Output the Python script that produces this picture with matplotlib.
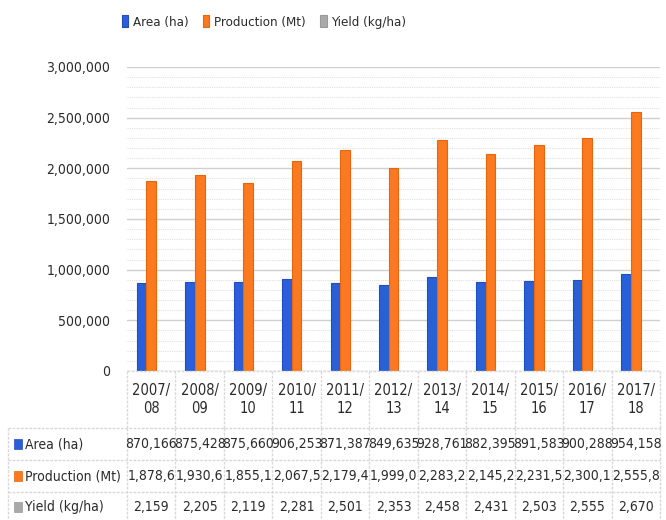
import numpy as np
import matplotlib.pyplot as plt
from matplotlib.patches import Rectangle
from matplotlib.ticker import MultipleLocator, FuncFormatter

# narrow face for the crowded table cells
plt.rcParams['font.family'] = ['DejaVu Sans']
plt.rcParams['font.stretch'] = 'condensed'

seasons = ['2007/\n08', '2008/\n09', '2009/\n10', '2010/\n11', '2011/\n12', '2012/\n13',
           '2013/\n14', '2014/\n15', '2015/\n16', '2016/\n17', '2017/\n18']
area = [870166, 875428, 875660, 906253, 871387, 849635, 928761, 882395, 891583, 900288, 954158]
production = [1878600, 1930600, 1855100, 2067500, 2179400, 1999000, 2283200, 2145200,
              2231500, 2300100, 2555800]
yield_kg = [2159, 2205, 2119, 2281, 2501, 2353, 2458, 2431, 2503, 2555, 2670]
series_names = ['Area (ha)', 'Production (Mt)', 'Yield (kg/ha)']

colors = ['#2a5fd8', '#fb7a1f', '#a9a9a9']
edges = ['#1f4fbf', '#e8650c', '#9a9a9a']
txt = '#2b2b2b'
grid_c = '#d9d9d9'
fs = 10

W, H = 666, 520
fig = plt.figure(figsize=(W / 100, H / 100), dpi=100)

# pixel layout of the plot area
x0, x1 = 127, 660
y_top, y_zero = 67, 371
ax = fig.add_axes([x0 / W, 1 - y_zero / H, (x1 - x0) / W, (y_zero - y_top) / H])

n = len(seasons)
x = np.arange(n)
bw = 0.2
for i, vals in enumerate([area, production, yield_kg]):
    ax.bar(x + (i - 1) * bw, vals, bw, color=colors[i], edgecolor=edges[i], linewidth=0.8,
           label=series_names[i], zorder=3)

ax.set_xlim(-0.5, n - 0.5)
ax.set_ylim(0, 3000000)
ax.yaxis.set_major_locator(MultipleLocator(500000))
ax.yaxis.set_minor_locator(MultipleLocator(100000))
ax.yaxis.set_major_formatter(FuncFormatter(lambda v, p: f'{int(v):,}'))
ax.grid(axis='y', which='major', color='#d0d0d0', linewidth=1.0, zorder=0)
ax.grid(axis='y', which='minor', color='#e0e0e0', linewidth=0.8, linestyle=(0, (1, 1)), zorder=0)
ax.set_xticks([])
ax.tick_params(axis='y', which='both', length=0, labelsize=10, labelcolor=txt, pad=12)
for s in ax.spines.values():
    s.set_visible(False)

# legend on top
ax.legend(loc='center', bbox_to_anchor=((264 - x0) / (x1 - x0), (y_zero - 22) / (y_zero - y_top)),
          ncol=3, frameon=False, fontsize=9.5, handlelength=0.5, handleheight=1.0,
          handletextpad=0.35, columnspacing=1.1, labelcolor=txt)

# data table below the axis, drawn in pixel coordinates
tb = fig.add_axes([0, 0, 1, 1])
tb.set_xlim(0, W)
tb.set_ylim(H, 0)
tb.axis('off')

cw = (x1 - x0) / n
row_y = [y_zero, 428, 460, 492, 522]
lkw = dict(color=grid_c, linewidth=1.0, linestyle=(0, (2, 1)))

# header row
tb.plot([x0, x1], [y_zero, y_zero], **lkw)
for k in range(n + 1):
    tb.plot([x0 + k * cw] * 2, [y_zero, row_y[1]], **lkw)
for k, s in enumerate(seasons):
    tb.text(x0 + (k + 0.5) * cw, (y_zero + row_y[1]) / 2, s, ha='center', va='center',
            fontsize=fs + 0.5, color=txt, linespacing=1.25)

# data rows
lx = 8
for r in range(1, 5):
    tb.plot([lx, x1], [row_y[r], row_y[r]], **lkw)
tb.plot([lx, lx], [row_y[1], H], **lkw)
for k in range(n + 1):
    tb.plot([x0 + k * cw] * 2, [row_y[1], H], **lkw)

rows = [
    [f'{v:,}' for v in area],
    [f'{v:,}'[:7] for v in production],
    [f'{v:,}' for v in yield_kg],
]
for r in range(3):
    yc = (row_y[r + 1] + row_y[r + 2]) / 2
    tb.add_patch(Rectangle((14, yc - 5), 8, 10, facecolor=colors[r], edgecolor=edges[r], linewidth=0.5))
    tb.text(25, yc, series_names[r], ha='left', va='center', fontsize=fs, color=txt)
    for k in range(n):
        tb.text(x0 + (k + 0.5) * cw, yc, rows[r][k], ha='center', va='center',
                fontsize=fs, color=txt)

fig.savefig('out.png', dpi=100)
